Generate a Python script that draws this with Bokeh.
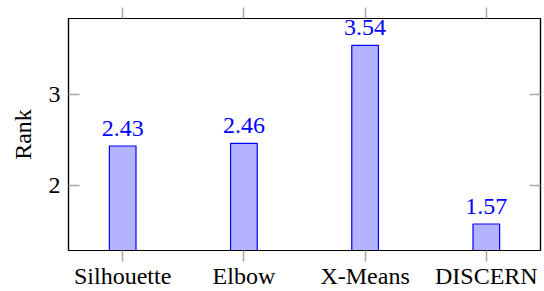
from bokeh.plotting import figure
from bokeh.models import (Range1d, LinearAxis, FixedTicker, ColumnDataSource, LabelSet,
                          CustomLabelingPolicy)
from bokeh.embed import file_html
from bokeh.resources import INLINE

categories = ["Silhouette", "Elbow", "X-Means", "DISCERN"]
ranks = [2.43, 2.46, 3.54, 1.57]
rank_labels = ["2.43", "2.46", "3.54", "1.57"]
y_ticks = [2, 3]

positions = list(range(len(categories)))
src = ColumnDataSource(dict(x=positions, top=ranks, label=rank_labels))

FONT = "Liberation Serif"
FS = "24px"
TICK_COLOR = "#a8a8a8"

p = figure(width=544, height=291, output_backend="svg", toolbar_location=None,
           x_range=Range1d(-0.447, len(categories) - 1 + 0.447),
           y_range=Range1d(1.278, 3.836),
           min_border_left=68, min_border_right=4, min_border_top=18, min_border_bottom=38)

p.xgrid.visible = False
p.ygrid.visible = False
p.outline_line_color = "black"
p.outline_line_width = 1.2

p.vbar(x="x", top="top", bottom=0, width=0.22, source=src,
       fill_color="#b3b3ff", line_color="#0000ff", line_width=1.2)

p.add_layout(LabelSet(x="x", y="top", text="label", source=src, y_offset=10,
                      text_align="center", text_baseline="alphabetic",
                      text_color="#0000ff", text_font=FONT, text_font_size=FS))

def style(ax, tin, tout, labels=True):
    ax.major_tick_in = tin
    ax.major_tick_out = tout
    ax.major_tick_line_color = TICK_COLOR
    ax.major_tick_line_width = 1.5
    ax.minor_tick_line_color = None
    ax.axis_line_color = "black"
    ax.axis_line_width = 1.2
    ax.major_label_text_font = FONT
    ax.major_label_text_color = "black"
    if labels:
        ax.major_label_text_font_size = FS
    else:
        ax.major_label_text_font_size = "1px"
        ax.major_label_policy = CustomLabelingPolicy(code="return new Set()")
        ax.major_label_standoff = 0

# bottom axis
xa = p.xaxis[0]
xa.ticker = FixedTicker(ticks=positions)
xa.major_label_overrides = {i: c for i, c in enumerate(categories)}
style(xa, 0, 11)
xa.major_label_standoff = 1

# left axis
ya = p.yaxis[0]
ya.ticker = FixedTicker(ticks=y_ticks)
style(ya, 11, 0)
ya.major_label_standoff = 8
ya.axis_label = "Rank"
ya.axis_label_text_font = FONT
ya.axis_label_text_font_size = FS
ya.axis_label_text_font_style = "normal"
ya.axis_label_text_color = "black"
ya.axis_label_standoff = 10

# top axis (ticks only)
ta = LinearAxis(ticker=FixedTicker(ticks=positions))
style(ta, 0, 11, labels=False)
p.add_layout(ta, "above")

# right axis (ticks only)
ra = LinearAxis(ticker=FixedTicker(ticks=y_ticks))
style(ra, 11, 0, labels=False)
p.add_layout(ra, "right")

open("out.html", "w").write(file_html(p, INLINE))
